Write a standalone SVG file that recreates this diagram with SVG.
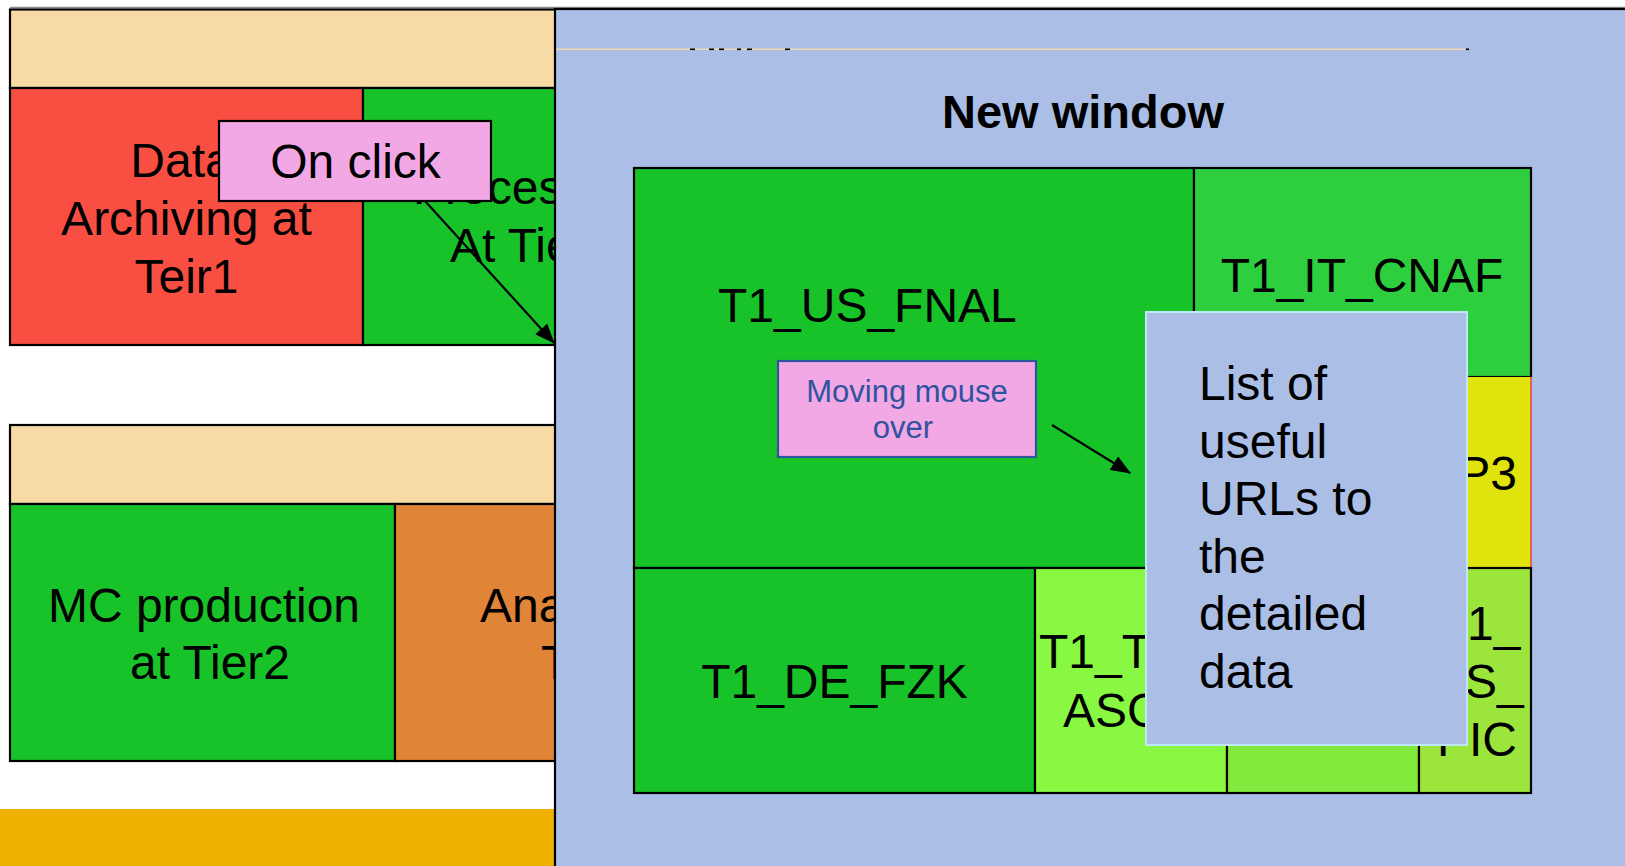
<svg xmlns="http://www.w3.org/2000/svg" width="1625" height="866" viewBox="0 0 1625 866">
<defs>
<style>
.t{font-family:"Liberation Sans",Arial,sans-serif;font-size:48px;fill:#000}
.c{text-anchor:middle}
.s{font-size:31px;fill:#2F539F}
.h{font-size:47px;font-weight:bold}
.b{stroke:#000;stroke-width:2.2}
.tan{fill:#F8DAA6}
.grn{fill:#17C329}
.panel{fill:#ABBFE6}
.mk{fill:#000}
</style>
<marker id="ah" viewBox="0 0 20 16" markerWidth="20" markerHeight="16" refX="19" refY="8" orient="auto" markerUnits="userSpaceOnUse">
<path d="M0,0 L20,8 L0,16 z" fill="#000"/>
</marker>
</defs>
<rect x="0" y="0" width="1625" height="866" fill="#fff"/>
<line x1="10" y1="7.5" x2="1625" y2="7.5" stroke="#8a8a8a" stroke-width="1.5"/>

<g id="tier1-header"><rect class="tan b" x="10" y="9.5" width="600" height="78.5"/></g>
<g id="data-archiving">
<rect x="10" y="88" width="353" height="257" fill="#F84F42" class="b"/>
<text class="t c" x="181" y="177">Data</text>
<text class="t c" x="186.5" y="235">Archiving at</text>
<text class="t c" x="186.5" y="293">Teir1</text>
</g>
<g id="processing">
<rect class="grn b" x="363" y="88" width="250" height="257"/>
<text class="t" x="413" y="204">Proces</text>
<text class="t" x="450" y="262">At Tie</text>
</g>
<g id="tier2-header"><rect class="tan b" x="10" y="425" width="600" height="79"/></g>
<g id="mc-production">
<rect class="grn b" x="10" y="504" width="385" height="257"/>
<text class="t c" x="204" y="622">MC production</text>
<text class="t c" x="210" y="679">at Tier2</text>
</g>
<g id="analysis">
<rect x="395" y="504" width="215" height="257" fill="#E08437" class="b"/>
<text class="t" x="480" y="622">Ana</text>
<text class="t" x="541" y="679">T</text>
</g>
<g id="bottom-bar"><rect x="0" y="809" width="610" height="57" fill="#F0B000"/></g>
<g id="on-click">
<rect x="219" y="121" width="272" height="80" fill="#F2A8E4" class="b"/>
<text class="t c" x="355.5" y="178">On click</text>
</g>

<g id="new-window">
<rect class="panel" x="555" y="9" width="1080" height="870" stroke="#000" stroke-width="2.2"/>
<line x1="556" y1="49.3" x2="1465" y2="49.3" stroke="#F0D8B2" stroke-width="1.5"/>
<rect class="mk" x="690" y="48.5" width="5" height="1.6"/>
<rect class="mk" x="709" y="48.5" width="5" height="1.6"/>
<rect class="mk" x="719" y="48.5" width="5" height="1.6"/>
<rect class="mk" x="737" y="48.5" width="4" height="1.6"/>
<rect class="mk" x="747" y="48.5" width="5" height="1.6"/>
<rect class="mk" x="785" y="48.5" width="5" height="1.6"/>
<rect class="mk" x="1466" y="48.5" width="3" height="1.6"/>
<text class="t c h" x="1083" y="128">New window</text>
</g>

<g id="t1-us-fnal">
<rect class="grn b" x="634" y="168" width="560" height="400"/>
<text class="t" x="718" y="322">T1_US_FNAL</text>
</g>
<g id="t1-it-cnaf">
<rect x="1194" y="168" width="337" height="209" fill="#2ECF3E" class="b"/>
<text class="t c" x="1362" y="292">T1_IT_CNAF</text>
</g>
<g id="t1-fr">
<rect x="1194" y="377" width="337" height="191" fill="#E0E30C"/>
<line x1="1531" y1="377" x2="1531" y2="568" stroke="#E8604A" stroke-width="2"/>
<text class="t" x="1517" y="490" text-anchor="end">P3</text>
</g>
<g id="t1-de-fzk">
<rect class="grn b" x="634" y="568" width="401" height="225"/>
<text class="t c" x="834.5" y="698">T1_DE_FZK</text>
</g>
<g id="t1-tw-asgc">
<rect x="1035" y="568" width="192" height="225" fill="#88F843" class="b"/>
<text class="t" x="1039" y="668">T1_T</text>
<text class="t" x="1063" y="727">ASG</text>
</g>
<g id="t1-third">
<rect x="1227" y="568" width="192" height="225" fill="#82EA3C" class="b"/>
</g>
<g id="t1-es-pic">
<rect x="1419" y="568" width="112" height="225" fill="#9CE53C" class="b"/>
<text class="t" x="1467" y="640">1_</text>
<text class="t" x="1465" y="698">S_</text>
<text class="t" x="1437" y="756">PIC</text>
</g>

<g id="url-list">
<rect class="panel" x="1146" y="312" width="321" height="433" stroke="#BDE8F8" stroke-width="2"/>
<text class="t" x="1199" y="400">List of</text>
<text class="t" x="1199" y="457.6">useful</text>
<text class="t" x="1199" y="515.2">URLs to</text>
<text class="t" x="1199" y="572.8">the</text>
<text class="t" x="1199" y="630.4">detailed</text>
<text class="t" x="1199" y="688">data</text>
</g>
<g id="mouse-over">
<rect x="778" y="361" width="258" height="96" fill="#F2A8E4" stroke="#2E55A0" stroke-width="2.2"/>
<text class="t c s" x="907" y="402">Moving mouse</text>
<text class="t c s" x="903" y="438">over</text>
</g>

<g id="connectors" stroke="#000" stroke-width="2.2" fill="none">
<line x1="425" y1="201" x2="554" y2="343" marker-end="url(#ah)"/>
<line x1="1052" y1="425" x2="1130" y2="473" marker-end="url(#ah)"/>
</g>
</svg>
